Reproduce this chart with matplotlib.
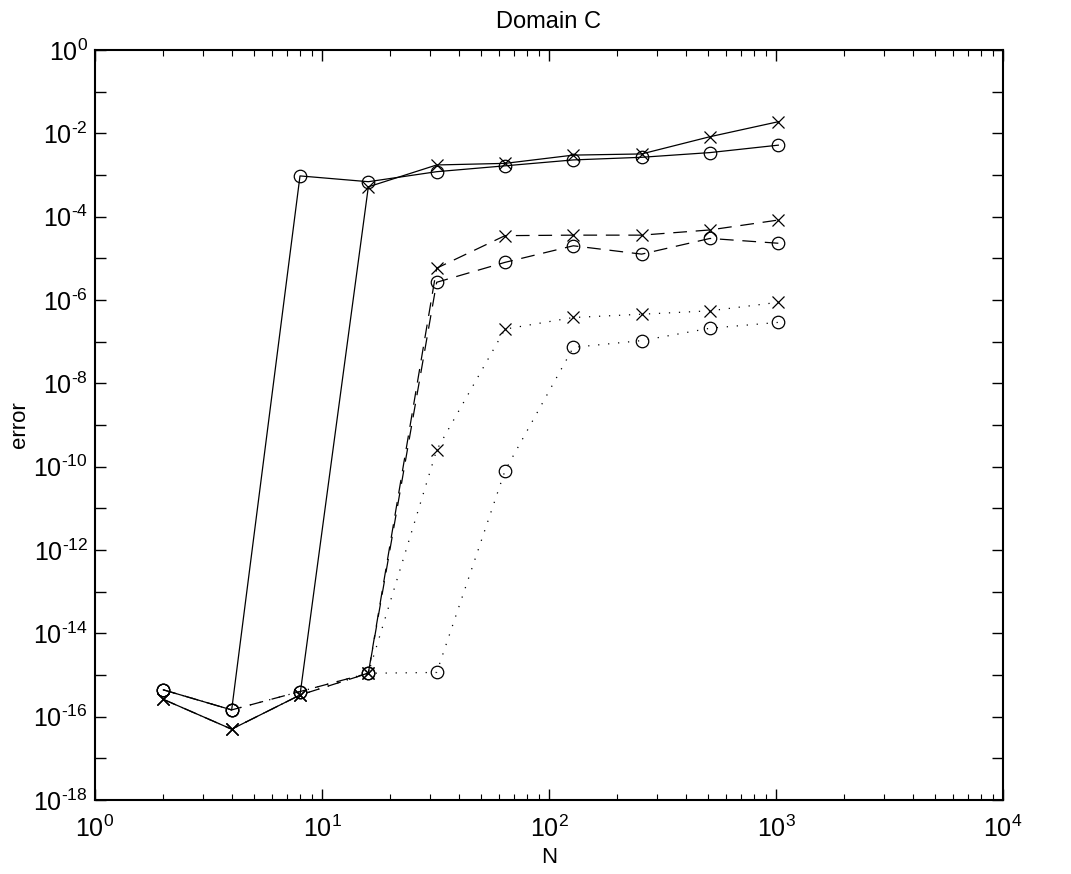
import matplotlib
matplotlib.use("Agg")
import matplotlib.pyplot as plt
import matplotlib.ticker as mticker
import numpy as np

plt.rcParams['font.family'] = ['Liberation Sans', 'DejaVu Sans']
plt.rcParams['mathtext.fontset'] = 'custom'
plt.rcParams['mathtext.rm'] = 'Liberation Sans'
plt.rcParams['mathtext.it'] = 'Liberation Sans'

N = [2, 4, 8, 16, 32, 64, 128, 256, 512, 1024]

# solid lines
solid_o = [4.4e-16, 1.45e-16, 9.5e-4, 6.9e-4, 1.2e-3, 1.66e-3, 2.3e-3, 2.66e-3, 3.45e-3, 5.2e-3]
solid_x = [2.6e-16, 5.0e-17, 3.3e-16, 5.2e-4, 1.74e-3, 1.9e-3, 3.0e-3, 3.2e-3, 8.3e-3, 1.9e-2]
# dashed lines
dash_o = [4.4e-16, 1.45e-16, 4.0e-16, 1.1e-15, 2.66e-6, 8.0e-6, 2.0e-5, 1.26e-5, 3.0e-5, 2.3e-5]
dash_x = [2.6e-16, 5.0e-17, 3.3e-16, 1.1e-15, 5.8e-6, 3.5e-5, 3.6e-5, 3.6e-5, 4.8e-5, 8.3e-5]
# dotted lines
dot_o = [4.4e-16, 1.45e-16, 4.0e-16, 1.1e-15, 1.15e-15, 8.0e-11, 7.3e-8, 1.06e-7, 2.1e-7, 2.9e-7]
dot_x = [2.6e-16, 5.0e-17, 3.3e-16, 1.1e-15, 2.5e-10, 2.0e-7, 3.8e-7, 4.55e-7, 5.5e-7, 8.8e-7]

fig = plt.figure(figsize=(10.71, 8.74), dpi=100)
ax = fig.add_axes([0.0887, 0.0847, 0.8478, 0.8581])

lw = 0.9
ms = 9
dashed = (0, (11, 7))
dotted = (0, (1, 7))

series = [
    (solid_o, 'o', '-'), (solid_x, 'x', '-'),
    (dash_o, 'o', dashed), (dash_x, 'x', dashed),
    (dot_o, 'o', dotted), (dot_x, 'x', dotted),
]
for vals, mk, ls in series:
    ax.plot(N, vals, color='black', linestyle=ls, linewidth=lw,
            marker=mk, markersize=ms, markerfacecolor='none',
            markeredgecolor='black', markeredgewidth=0.9)

ax.set_xscale('log')
ax.set_yscale('log')
ax.set_xlim(1, 1e4)
ax.set_ylim(1e-18, 1)


def expfmt(e):
    s = str(abs(e))
    if e < 0:
        s = '\u2010' + s
    return r'$10^{%s}$' % s


ax.xaxis.set_major_locator(mticker.FixedLocator([1, 10, 100, 1000, 10000]))
ax.xaxis.set_minor_locator(mticker.LogLocator(base=10, subs=np.arange(2, 10), numticks=20))
ax.xaxis.set_major_formatter(mticker.FuncFormatter(lambda v, p: expfmt(int(round(np.log10(v))))))
ax.xaxis.set_minor_formatter(mticker.NullFormatter())

yt = [10.0 ** e for e in range(-18, 1)]
ax.yaxis.set_major_locator(mticker.FixedLocator(yt))
ax.yaxis.set_minor_locator(mticker.NullLocator())


def yfmt(v, p):
    e = int(round(np.log10(v)))
    if e % 2 == 0:
        return expfmt(e)
    return ''


ax.yaxis.set_major_formatter(mticker.FuncFormatter(yfmt))

ax.tick_params(which='both', direction='in', top=True, right=True, labelsize=18)
ax.tick_params(which='major', length=8, width=1.0)
ax.tick_params(which='minor', length=4, width=0.8)
ax.tick_params(axis='x', pad=11)
ax.tick_params(axis='y', pad=5)
for s in ax.spines.values():
    s.set_linewidth(1.5)

ax.set_xlabel('N', fontsize=16, labelpad=4)
ax.set_ylabel('error', fontsize=16, labelpad=2)
ax.set_title('Domain C', fontsize=17, pad=16)

fig.savefig('out.png', dpi=100)
